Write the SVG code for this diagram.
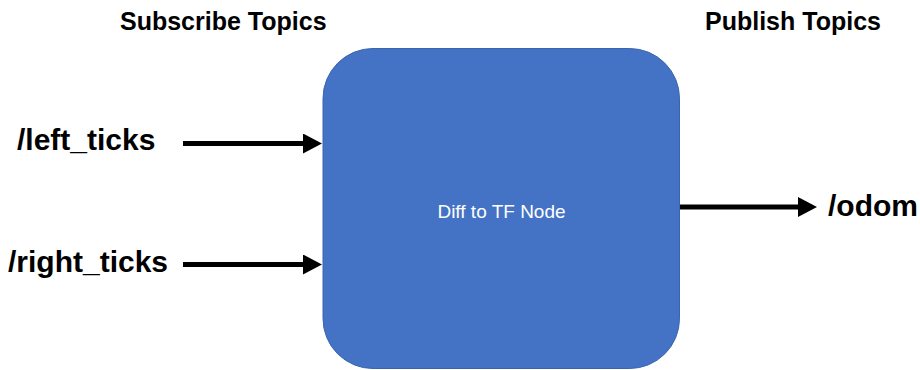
<svg xmlns="http://www.w3.org/2000/svg" width="920" height="370" viewBox="0 0 920 370">
  <style>
    .title { font-family: "Liberation Sans", Arial, sans-serif; font-weight: bold; font-size: 25px; fill: #000; }
    .topic { font-family: "Liberation Sans", Arial, sans-serif; font-weight: bold; font-size: 30px; fill: #000; }
    .nodelabel { font-family: "Liberation Sans", Arial, sans-serif; font-size: 19px; fill: #ffffff; }
    .conn { stroke: #000; stroke-width: 5; fill: none; }
  </style>
  <defs>
    <marker id="arrow" markerUnits="userSpaceOnUse" markerWidth="20" markerHeight="20" viewBox="0 0 20 20" refX="1" refY="10" orient="auto">
      <path d="M0,0 L19,10 L0,20 z" fill="#000"/>
    </marker>
  </defs>
  <rect width="920" height="370" fill="#ffffff"/>
  <text class="title" x="120" y="30">Subscribe Topics</text>
  <text class="title" x="705" y="30">Publish Topics</text>
  <g id="node-diff-to-tf">
    <rect x="323" y="48.5" width="356.5" height="320" rx="50" ry="50" fill="#4472C4" stroke="#3B64AE" stroke-width="1"/>
    <text class="nodelabel" x="501.5" y="218" text-anchor="middle">Diff to TF Node</text>
  </g>
  <g id="topic-left-ticks">
    <text class="topic" x="17" y="150">/left_ticks</text>
  </g>
  <g id="topic-right-ticks">
    <text class="topic" x="8" y="272">/right_ticks</text>
  </g>
  <g id="topic-odom">
    <text class="topic" x="828" y="216">/odom</text>
  </g>
  <g id="connectors">
    <line class="conn" x1="183" y1="143.5" x2="304" y2="143.5" marker-end="url(#arrow)"/>
    <line class="conn" x1="183" y1="264.5" x2="304" y2="264.5" marker-end="url(#arrow)"/>
    <line class="conn" x1="680" y1="207" x2="799" y2="207" marker-end="url(#arrow)"/>
  </g>
</svg>
